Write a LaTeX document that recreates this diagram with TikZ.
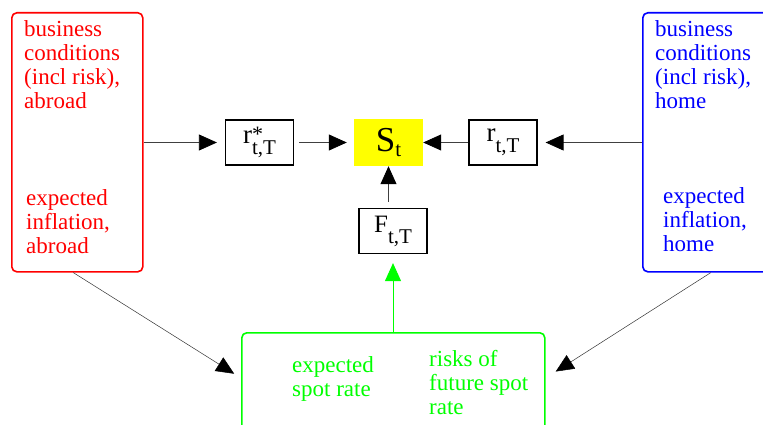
\documentclass[tikz,border=0pt]{standalone}
\usepackage{fontspec}
\setmainfont{LiberationSerif}[Extension=.ttf, UprightFont=*-Regular, BoldFont=*-Bold]
\usetikzlibrary{arrows.meta}
\definecolor{fullred}{RGB}{255,0,0}
\definecolor{fullblue}{RGB}{0,0,255}
\definecolor{fullgreen}{RGB}{0,255,0}
\definecolor{spotyellow}{RGB}{255,255,0}
\newcommand{\subidx}[1]{\raisebox{-11pt}{\fontsize{21}{21}\selectfont #1}}
\tikzset{
  outerbox/.style={draw, rounded corners=5pt, line width=1.6pt, anchor=north west, inner sep=0pt},
  varbox/.style={draw, line width=1.2pt, minimum width=68pt, minimum height=45pt, inner sep=0pt, font=\fontsize{27}{27}\selectfont},
  spotnode/.style={fill=spotyellow, minimum width=69pt, minimum height=47pt, inner sep=0pt, font=\fontsize{35}{35}\selectfont},
  note/.style={align=left, anchor=north west, inner sep=0pt, font=\fontsize{23}{24}\selectfont},
  link/.style={black!75, line width=0.8pt, -{Triangle[length=18pt,width=16pt,black]}},
  thinlink/.style={black!80, line width=0.5pt, -{Triangle[length=18pt,width=16pt,black]}},
  greenlink/.style={fullgreen, line width=1pt, -{Triangle[length=18pt,width=16pt,fullgreen]}}
}

\begin{document}
\begin{tikzpicture}[x=1pt,y=-1pt]
  \useasboundingbox (0,0) rectangle (763,425);
  \clip (0,0) rectangle (763,425);

  % outer boxes
  \node[outerbox, draw=fullred, minimum width=131pt, minimum height=259pt] (abroad) at (11,12) {};
  \node[outerbox, draw=fullblue, minimum width=140pt, minimum height=259pt] (home) at (642,12) {};
  \node[outerbox, draw=fullgreen, minimum width=303pt, minimum height=120pt] (spot) at (241,332) {};

  \node[note, text=fullred] (abroadbiz) at (24,20) {business\\conditions\\(incl risk),\\abroad};
  \node[note, text=fullred] (abroadinf) at (26,189) {expected\\inflation,\\abroad};
  \node[note, text=fullblue] (homebiz) at (655,20) {business\\conditions\\(incl risk),\\home};
  \node[note, text=fullblue] (homeinf) at (663,187) {expected\\inflation,\\home};
  \node[note, text=fullgreen] (spotexp) at (292,356) {expected\\spot rate};
  \node[note, text=fullgreen] (spotrisk) at (429,350) {risks of\\future spot\\rate};

  % variables
  \node[spotnode] (st) at (388.5,142.5) {S\raisebox{-5pt}{\fontsize{21}{21}\selectfont t}};
  \node[varbox] (rstar) at (259.5,142.5) {r\rlap{\raisebox{2pt}{\fontsize{22}{22}\selectfont *}}\subidx{t,T}};
  \node[varbox] (rhome) at (503,142.5) {r\subidx{t,T}};
  \node[varbox] (ftt) at (393,231) {\fontsize{25}{25}\selectfont F\subidx{t,T}};

  % connectors
  \draw[link, shorten >=8pt] (abroad.east |- rstar.west) -- (rstar.west);
  \draw[link, shorten <=5pt, shorten >=7pt] (rstar.east) -- (st.west);
  \draw[link] (rhome.west) -- (st.east);
  \draw[link, shorten >=8pt] (home.west |- rhome.east) -- (rhome.east);
  \draw[link, shorten <=6pt] (st.south |- ftt.north) -- (st.south);
  \draw[greenlink, shorten >=9pt] (ftt.south |- spot.north) -- (ftt.south);
  \draw[thinlink, shorten >=8pt] ([xshift=-4pt]abroad.south) -- ([yshift=-46pt]spot.north west);
  \draw[thinlink, shorten >=12pt] ([xshift=-2pt]home.south) -- ([yshift=-46pt]spot.north east);
\end{tikzpicture}
\end{document}
